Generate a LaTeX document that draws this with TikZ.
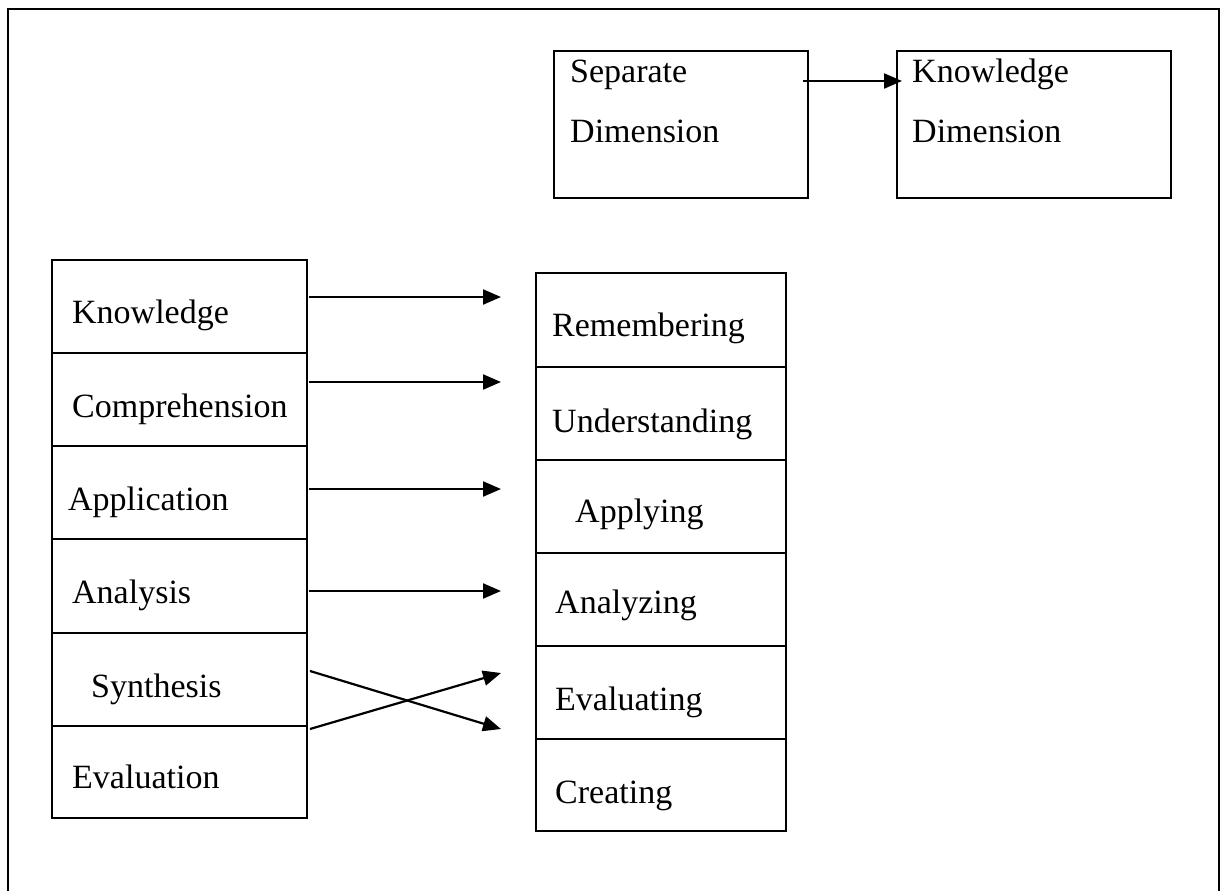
\documentclass[tikz,border=0pt]{standalone}
\usepackage{fontspec}
\setmainfont{Liberation Serif}
\usetikzlibrary{arrows.meta}
\begin{document}
\begin{tikzpicture}[x=1pt,y=-1pt,
  cellbox/.style={draw,line width=2.2pt,inner sep=0pt,outer sep=0pt},
  lbl/.style={anchor=base west,inner sep=0pt,font=\fontsize{34}{40}\selectfont},
  arr/.style={line width=2.2pt,-{Triangle[length=18pt,width=15pt]}},
  frameline/.style={line width=2.2pt}]
\useasboundingbox (0,0) rectangle (1221,891);
% outer frame
\coordinate (f1) at (8,895);
\coordinate (f2) at (8,9);
\coordinate (f3) at (1219,9);
\coordinate (f4) at (1219,895);
\draw[frameline] (f1) -- (f2) -- (f3) -- (f4);
% top boxes
\node[cellbox,minimum width=254pt,minimum height=147pt] (sep) at (681,124.5) {};
\node[cellbox,minimum width=274pt,minimum height=147pt] (kd) at (1034,124.5) {};
\node[lbl] (sept1) at (570,83) {Separate};
\node[lbl] (sept2) at (570,142) {Dimension};
\node[lbl] (kdt1) at (912,82) {Knowledge};
\node[lbl] (kdt2) at (912,142) {Dimension};
\coordinate (sa) at (803,81);
\coordinate (sb) at (902,81);
\draw[arr] (sa) -- (sb);
% left column
\node[cellbox,minimum width=255pt,minimum height=93pt] (L1) at (179.5,306.5) {};
\node[cellbox,minimum width=255pt,minimum height=93pt] (L2) at (179.5,399.5) {};
\node[cellbox,minimum width=255pt,minimum height=93pt] (L3) at (179.5,492.5) {};
\node[cellbox,minimum width=255pt,minimum height=94pt] (L4) at (179.5,586) {};
\node[cellbox,minimum width=255pt,minimum height=93pt] (L5) at (179.5,679.5) {};
\node[cellbox,minimum width=255pt,minimum height=92pt] (L6) at (179.5,772) {};
\node[lbl] (lt1) at (72,323) {Knowledge};
\node[lbl] (lt2) at (72,417) {Comprehension};
\node[lbl] (lt3) at (68,510) {Application};
\node[lbl] (lt4) at (72,603) {Analysis};
\node[lbl] (lt5) at (91,697) {Synthesis};
\node[lbl] (lt6) at (72,788) {Evaluation};
% right column
\node[cellbox,minimum width=250pt,minimum height=94pt] (R1) at (661,320) {};
\node[cellbox,minimum width=250pt,minimum height=93pt] (R2) at (661,413.5) {};
\node[cellbox,minimum width=250pt,minimum height=93pt] (R3) at (661,506.5) {};
\node[cellbox,minimum width=250pt,minimum height=93pt] (R4) at (661,599.5) {};
\node[cellbox,minimum width=250pt,minimum height=93pt] (R5) at (661,692.5) {};
\node[cellbox,minimum width=250pt,minimum height=92pt] (R6) at (661,785) {};
\node[lbl] (rt1) at (552,336) {Remembering};
\node[lbl] (rt2) at (552,432) {Understanding};
\node[lbl] (rt3) at (575,522) {Applying};
\node[lbl] (rt4) at (555,613) {Analyzing};
\node[lbl] (rt5) at (555,710) {Evaluating};
\node[lbl] (rt6) at (555,803) {Creating};
% arrows
\coordinate (a1s) at (309,297); \coordinate (a1e) at (501,297);
\coordinate (a2s) at (309,382); \coordinate (a2e) at (501,382);
\coordinate (a3s) at (309,489); \coordinate (a3e) at (501,489);
\coordinate (a4s) at (309,591); \coordinate (a4e) at (501,591);
\coordinate (a5s) at (310,671); \coordinate (a5e) at (501,729);
\coordinate (a6s) at (310,729); \coordinate (a6e) at (501,673);
\draw[arr] (a1s) -- (a1e);
\draw[arr] (a2s) -- (a2e);
\draw[arr] (a3s) -- (a3e);
\draw[arr] (a4s) -- (a4e);
\draw[arr] (a5s) -- (a5e);
\draw[arr] (a6s) -- (a6e);
\end{tikzpicture}
\end{document}
